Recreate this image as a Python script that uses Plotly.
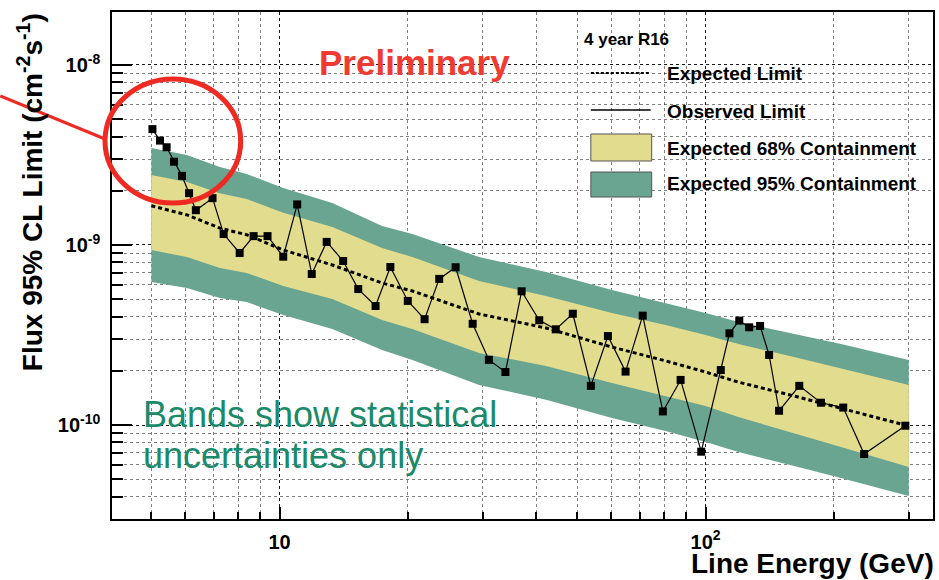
import plotly.graph_objects as go

# ---- Observed 95% CL flux upper limits ------------------------------------
energy_obs = [5.03, 5.24, 5.43, 5.65, 5.90, 6.13, 6.36, 6.96, 7.39, 8.06,
              8.69, 9.37, 10.2, 11.0, 11.9, 12.9, 14.1, 15.3, 16.8, 18.2,
              20.0, 21.9, 23.7, 25.9, 28.4, 31.0, 33.9, 37.0, 40.7, 44.5,
              48.8, 53.8, 59.0, 64.9, 71.2, 79.4, 87.4, 97.7, 108.6, 113.8,
              120.0, 126.6, 134.3, 141.0, 148.8, 166.0, 186.6, 210.5, 235.7, 294.5]
flux_obs = [4.40e-9, 3.80e-9, 3.49e-9, 2.90e-9, 2.42e-9, 1.94e-9, 1.56e-9, 1.82e-9, 1.15e-9, 9.03e-10,
            1.12e-9, 1.12e-9, 8.61e-10, 1.68e-9, 6.90e-10, 1.04e-9, 8.15e-10, 5.69e-10, 4.58e-10, 7.54e-10,
            4.89e-10, 3.87e-10, 6.48e-10, 7.52e-10, 3.65e-10, 2.30e-10, 1.97e-10, 5.53e-10, 3.82e-10, 3.40e-10,
            4.15e-10, 1.65e-10, 3.12e-10, 1.98e-10, 4.05e-10, 1.19e-10, 1.78e-10, 7.11e-11, 2.02e-10, 3.23e-10,
            3.80e-10, 3.49e-10, 3.55e-10, 2.45e-10, 1.20e-10, 1.65e-10, 1.33e-10, 1.25e-10, 6.90e-11, 9.91e-11]

# ---- Expected limit and containment bands ----------------------------------
energy_exp = [5.0, 6.06, 7.24, 8.37, 10.2, 13.3, 17.4, 20.5, 29.4, 42.2,
              60.3, 80.6, 100.0, 119.5, 165.0, 208.0, 300.0]
flux_exp = [1.65e-9, 1.47e-9, 1.24e-9, 1.14e-9, 9.38e-10, 7.74e-10, 6.15e-10, 5.55e-10, 4.14e-10, 3.46e-10,
            2.71e-10, 2.27e-10, 1.97e-10, 1.73e-10, 1.43e-10, 1.24e-10, 9.87e-11]
band95_hi = [3.46e-9, 3.16e-9, 2.71e-9, 2.48e-9, 2.07e-9, 1.71e-9, 1.275e-9, 1.15e-9, 8.57e-10, 7.08e-10,
             5.62e-10, 4.76e-10, 4.19e-10, 3.73e-10, 3.16e-10, 2.82e-10, 2.30e-10]
band68_hi = [2.45e-9, 2.24e-9, 1.94e-9, 1.80e-9, 1.51e-9, 1.26e-9, 9.62e-10, 8.57e-10, 6.31e-10, 5.21e-10,
             4.19e-10, 3.59e-10, 3.16e-10, 2.82e-10, 2.36e-10, 2.07e-10, 1.67e-10]
band68_lo = [9.38e-10, 8.57e-10, 7.45e-10, 6.99e-10, 5.92e-10, 5.01e-10, 3.83e-10, 3.41e-10, 2.51e-10, 2.13e-10,
             1.71e-10, 1.45e-10, 1.275e-10, 1.107e-10, 8.91e-11, 7.55e-11, 5.84e-11]
band95_lo = [6.23e-10, 5.77e-10, 5.08e-10, 4.82e-10, 4.08e-10, 3.41e-10, 2.61e-10, 2.30e-10, 1.67e-10, 1.38e-10,
             1.094e-10, 9.26e-11, 8.04e-11, 7.08e-11, 5.84e-11, 5.08e-11, 4.03e-11]

# ---- Axis tick labels ---------------------------------------------------------
x_tickvals = [10, 100]
x_ticktext = ["10", "10<sup>2</sup>"]
y_tickvals = [1e-10, 1e-9, 1e-8]
y_ticktext = ["10<sup>-10</sup>", "10<sup>-9</sup>", "10<sup>-8</sup>"]

legend_title = "4 year R16"
legend_labels = ["Expected Limit", "Observed Limit",
                 "Expected 68% Containment", "Expected 95% Containment"]

TEAL = "#6aa592"
YELLOW = "#e2dc8e"
FONT = "Liberation Sans"

# page geometry (pixels) of the plotting frame
W, H = 939, 580
L, R, T, B = 112, 935, 12, 519


def px(x):
    return (x - L) / (R - L)


def py(y):
    return (B - y) / (B - T)


fig = go.Figure()

# 95% band
fig.add_trace(go.Scatter(x=energy_exp, y=band95_hi, mode="lines", line=dict(width=0),
                         hoverinfo="skip", showlegend=False))
fig.add_trace(go.Scatter(x=energy_exp, y=band95_lo, mode="lines", line=dict(width=0),
                         fill="tonexty", fillcolor=TEAL, name=legend_labels[3], showlegend=False))
# 68% band
fig.add_trace(go.Scatter(x=energy_exp, y=band68_hi, mode="lines", line=dict(width=0),
                         hoverinfo="skip", showlegend=False))
fig.add_trace(go.Scatter(x=energy_exp, y=band68_lo, mode="lines", line=dict(width=0),
                         fill="tonexty", fillcolor=YELLOW, name=legend_labels[2], showlegend=False))
# expected limit
fig.add_trace(go.Scatter(x=energy_exp, y=flux_exp, mode="lines",
                         line=dict(color="black", width=3, dash="4px,3px"),
                         name=legend_labels[0], showlegend=False))
# observed limit
fig.add_trace(go.Scatter(x=energy_obs, y=flux_obs, mode="lines+markers",
                         line=dict(color="black", width=1.2),
                         marker=dict(symbol="square", size=8, color="black"),
                         name=legend_labels[1], showlegend=False))

grid_major = "rgba(0,0,0,0.8)"
grid_minor = "rgba(0,0,0,0.5)"

fig.update_xaxes(
    type="log", range=[0.6066, 2.534],
    tickvals=x_tickvals, ticktext=x_ticktext,
    ticks="inside", ticklen=12, tickwidth=1.5, tickcolor="black",
    showgrid=True, gridcolor=grid_major, griddash="dot", gridwidth=1,
    minor=dict(dtick="D1", ticks="inside", ticklen=7, tickcolor="black",
               showgrid=True, gridcolor=grid_minor, griddash="dot", gridwidth=1),
    showline=True, linecolor="black", linewidth=1.5, mirror=True,
    tickfont=dict(family=FONT, size=20, color="black", weight="bold"),
    ticklabelstandoff=4, zeroline=False,
)
fig.update_yaxes(
    type="log", range=[-10.522, -7.706],
    tickvals=y_tickvals, ticktext=y_ticktext,
    ticks="inside", ticklen=20, tickwidth=1.5, tickcolor="black",
    showgrid=True, gridcolor=grid_major, griddash="dot", gridwidth=1,
    minor=dict(dtick="D1", ticks="inside", ticklen=11, tickcolor="black",
               showgrid=True, gridcolor=grid_minor, griddash="dot", gridwidth=1),
    showline=True, linecolor="black", linewidth=1.5, mirror=True,
    tickfont=dict(family=FONT, size=20, color="black", weight="bold"),
    ticklabelstandoff=6, zeroline=False,
)

shapes = []
# legend panel
shapes.append(dict(type="rect", xref="paper", yref="paper", layer="between",
                   x0=px(577), x1=px(933), y0=py(200), y1=py(13),
                   fillcolor="white", line=dict(width=0)))
shapes.append(dict(type="line", xref="paper", yref="paper", layer="above",
                   x0=px(592), x1=px(652), y0=py(73), y1=py(73),
                   line=dict(color="black", width=2, dash="3px,2px")))
shapes.append(dict(type="line", xref="paper", yref="paper", layer="above",
                   x0=px(592), x1=px(652), y0=py(110), y1=py(110),
                   line=dict(color="black", width=1.5)))
shapes.append(dict(type="rect", xref="paper", yref="paper", layer="above",
                   x0=px(592), x1=px(653), y0=py(161), y1=py(134),
                   fillcolor=YELLOW, line=dict(color="#555555", width=1)))
shapes.append(dict(type="rect", xref="paper", yref="paper", layer="above",
                   x0=px(592), x1=px(653), y0=py(197), y1=py(172),
                   fillcolor=TEAL, line=dict(color="#555555", width=1)))
# red highlight around the low-energy end
shapes.append(dict(type="circle", xref="paper", yref="paper", layer="above",
                   x0=px(105), x1=px(241), y0=py(203), y1=py(79),
                   line=dict(color="#ee2a22", width=5)))
shapes.append(dict(type="line", xref="paper", yref="paper", layer="above",
                   x0=px(0), x1=px(105), y0=py(96), y1=py(139),
                   line=dict(color="#ee2a22", width=3)))

annotations = []


def note(text, x, y, size, color="black", bold=True, xanchor="left", angle=0):
    annotations.append(dict(text=text, xref="paper", yref="paper", x=px(x), y=py(y),
                            xanchor=xanchor, yanchor="middle", showarrow=False,
                            textangle=angle,
                            font=dict(family=FONT, size=size, color=color,
                                      weight="bold" if bold else "normal")))


note(legend_title, 583, 39, 17)
note(legend_labels[0], 666, 74, 19)
note(legend_labels[1], 666, 111, 19)
note(legend_labels[2], 666, 148, 19)
note(legend_labels[3], 666, 184, 19)
note("Preliminary", 415, 63, 35, color="#f03a32", xanchor="center")
note("Bands show statistical", 141, 414, 36, color="#1a8a6b", bold=False)
note("uncertainties only", 141, 455, 36, color="#1a8a6b", bold=False)
note("Line Energy (GeV)", 938, 563, 28, xanchor="right")
note("Flux 95% CL Limit (cm<sup>-2</sup>s<sup>-1</sup>)", 30, 192, 28,
     xanchor="center", angle=-90)

fig.update_layout(
    width=W, height=H,
    margin=dict(l=L, r=W - R, t=T, b=H - B),
    paper_bgcolor="white", plot_bgcolor="white",
    shapes=shapes, annotations=annotations,
    showlegend=False,
)

fig.write_html("out.html")
